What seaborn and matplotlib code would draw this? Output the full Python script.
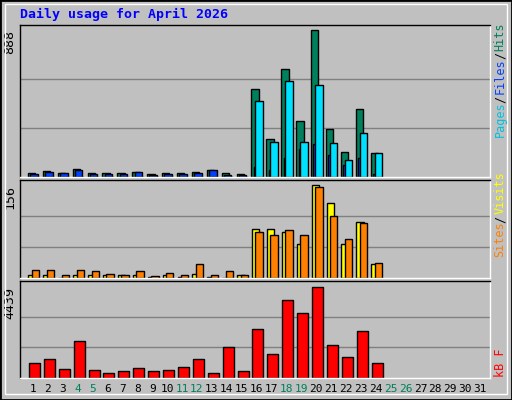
import matplotlib
matplotlib.use("Agg")
import matplotlib.pyplot as plt
import seaborn as sns
import numpy as np
from matplotlib.patches import Rectangle

sns.set_theme(style="white")
plt.rcParams['font.family'] = ['DejaVu Sans Mono']

days = list(range(1, 32))
hits  = [26,38,22,50,26,22,26,32,16,22,26,32,44,22,16,529,232,655,341,888,287,154,408,142]
files = [20,32,22,44,20,20,20,28,14,16,20,26,44,12,10,62,44,116,170,200,135,74,116,16]
pages = [2,2,0,2,2,2,2,2,1,2,2,2,0,2,2,462,214,577,214,558,208,100,268,142]
visits= [4.5,4.5,0,4.5,4.5,4.5,4.5,4.5,2,4.5,2,6,2,0,4.5,82,82,77,58,156,127,58,95,24]
sites = [14,14,5.6,14,11,7,5.6,12,4,9,5.6,24,5.6,11,5.6,77,72,80,73,154,105,65,92,26]
kbytes= [697,891,405,1766,356,211,308,454,308,356,502,891,211,1474,308,2398,1134,3807,3175,4439,1571,988,2301,697]
weekend = [4,5,11,12,18,19,25,26]

BG = '#c0c0c0'
fig = plt.figure(figsize=(5.12, 4.0), dpi=100, facecolor=BG)
fig.patches.append(Rectangle((0, 0), 1, 1, transform=fig.transFigure, fill=False, ec='black', lw=2))
fig.patches.append(Rectangle((0.01, 0.015), 0.98, 0.975, transform=fig.transFigure, fill=False, ec='white', lw=1))

L, W = 20/512, 470/512
ax1 = fig.add_axes([L, 1-177/400, W, 152/400])
ax2 = fig.add_axes([L, 1-278/400, W, 98/400])
ax3 = fig.add_axes([L, 1-377.7/400, W, 97/400])

d = np.array(days[:len(hits)])
def bars(ax, vals, off, w, color):
    ax.bar(d + off, vals, width=w, align='edge', color=color, edgecolor='black', linewidth=1)

bars(ax1, hits, -0.34, 0.5, '#00805c')
bars(ax1, files, -0.18, 0.5, '#0040ff')
bars(ax1, pages, -0.07, 0.5, '#00e0ff')
bars(ax2, visits, -0.3, 0.5, '#ffff00')
bars(ax2, sites, -0.07, 0.5, '#ff8000')
bars(ax3, kbytes, -0.27, 0.74, '#ff0000')

for ax, mx, ymax in [(ax1, 888, 918), (ax2, 156, 165), (ax3, 4439, 4730)]:
    ax.set_facecolor(BG)
    ax.set_xlim(0.13, 31.67)
    ax.set_ylim(0, ymax)
    for g in (mx/3, 2*mx/3):
        ax.axhline(g, color='#808080', lw=1, zorder=0)
    ax.set_xticks([]); ax.set_yticks([])
    for s in ax.spines.values():
        s.set_color('black'); s.set_linewidth(1)
    ax.spines['right'].set_color('white'); ax.spines['bottom'].set_color('white')
    ax.text(-0.008, mx/ymax, str(mx), transform=ax.transAxes, rotation=90,
            ha='right', va='top', fontsize=9.5, color='black')

for day in days:
    ax3.text(day, -0.06, str(day), transform=ax3.get_xaxis_transform(), ha='center', va='top',
             fontsize=8, color='#00805c' if day in weekend else 'black')

fig.text(20/512, 1-14/400, 'Daily usage for April 2026', color='#0000ff', fontsize=9.5,
         fontweight='bold', ha='left', va='center')

def vlabel(parts, x, ybot):
    y = ybot
    ch = 6.4/400
    for txt, col in parts:
        fig.text(x, y, txt, rotation=90, color=col, fontsize=8.5, ha='center', va='bottom')
        y += ch*len(txt) + 0.006
vlabel([('Pages', '#00c0e0'), ('/', 'black'), ('Files', '#0040ff'), ('/', 'black'), ('Hits', '#00805c')], 500/512, 1-137/400)
vlabel([('Sites', '#ff8000'), ('/', 'black'), ('Visits', '#ffff00')], 500/512, 1-257/400)
vlabel([('kB F', '#ff0000')], 500/512, 1-377/400)

fig.savefig('out.png', dpi=100, facecolor=BG)
